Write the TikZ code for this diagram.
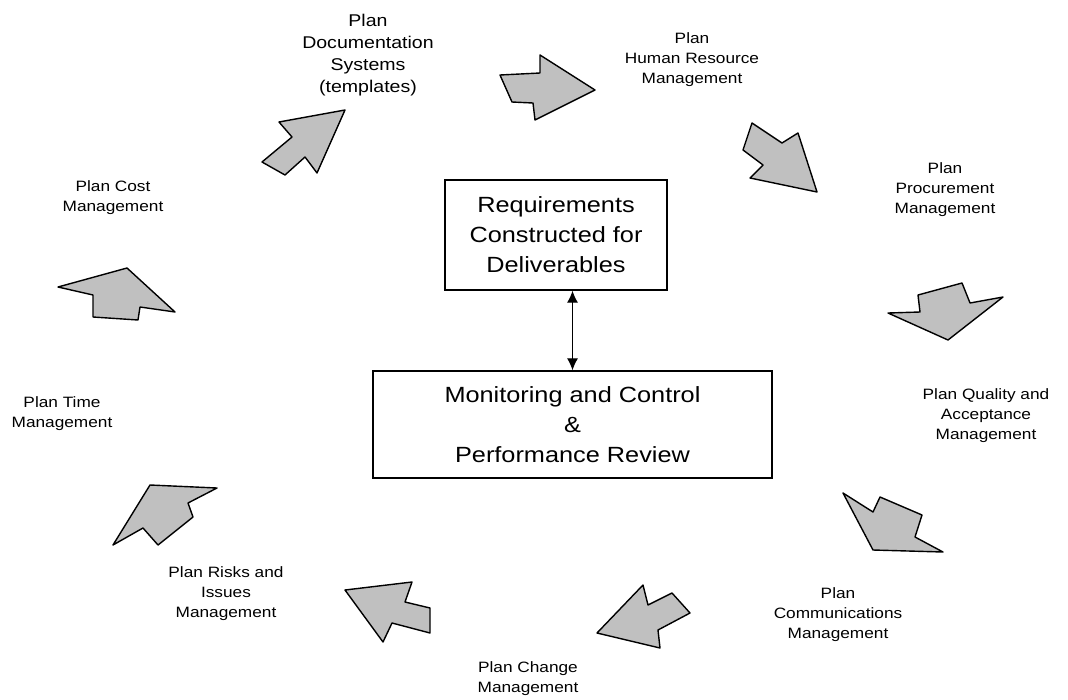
\documentclass[tikz,border=0pt]{standalone}
\usepackage{fontspec}
\usepackage{tikz}
\usetikzlibrary{arrows.meta}
\newfontfamily\planfont{Liberation Sans}[FakeStretch=1.15]
\definecolor{arrowgray}{RGB}{192,192,192}

\tikzset{
  planlabel/.style={align=center, inner sep=0pt, font=\planfont\fontsize{15}{20}\selectfont},
  mainbox/.style={draw, line width=1.3pt, align=center, font=\planfont\fontsize{22}{30}\selectfont},
  fatarrow/.style={draw, fill=arrowgray, line width=1.4pt, line join=round}
}

\begin{document}
\begin{tikzpicture}[x=1pt,y=-1pt]
\useasboundingbox (0,0) rectangle (1068,699);

% centre boxes
\node[mainbox, minimum width=222, minimum height=110] (req) at (556,235) {Requirements\\Constructed for\\Deliverables};
\node[mainbox, minimum width=399, minimum height=107] (mon) at (572.5,424.5) {Monitoring and Control\\\&\\Performance Review};
\draw[{Latex[length=12pt,width=11pt]}-{Latex[length=12pt,width=11pt]}, line width=1.2pt] (req.south -| mon.north) -- (mon.north);

% labels round the cycle
\node[planlabel, font=\planfont\fontsize{17}{22}\selectfont] (docs) at (368,55) {Plan\\Documentation\\Systems\\(templates)};
\node[planlabel] (hr) at (692,60) {Plan\\Human Resource\\Management};
\node[planlabel] (proc) at (945,190) {Plan\\Procurement\\Management};
\node[planlabel] (qual) at (986,416) {Plan Quality and\\Acceptance\\Management};
\node[planlabel] (comm) at (838,615) {Plan\\Communications\\Management};
\node[planlabel] (chg) at (528,679) {Plan Change\\Management};
\node[planlabel] (risk) at (226,594) {Plan Risks and\\Issues\\Management};
\node[planlabel] (time) at (62,414) {Plan Time\\Management};
\node[planlabel] (cost) at (113,198) {Plan Cost\\Management};

% block arrows
\draw[fatarrow] (345,110) -- (279,122) -- (292,137) -- (262,162) -- (285,175) -- (305,157) -- (317,173) -- cycle;
\draw[fatarrow] (500,75) -- (540,73) -- (540,55) -- (595,90) -- (535,120) -- (533,103) -- (512,102) -- cycle;
\draw[fatarrow] (752,123) -- (782,143) -- (798,133) -- (817,192) -- (750,178) -- (763,165) -- (743,150) -- cycle;
\draw[fatarrow] (888,313) -- (920,312) -- (918,295) -- (962,283) -- (970,303) -- (1003,297) -- (948,340) -- cycle;
\draw[fatarrow] (843,493) -- (873,512) -- (880,497) -- (922,515) -- (915,537) -- (943,552) -- (873,550) -- cycle;
\draw[fatarrow] (643,585) -- (648,605) -- (672,593) -- (690,613) -- (658,630) -- (660,648) -- (597,633) -- cycle;
\draw[fatarrow] (345,590) -- (412,582) -- (405,602) -- (430,608) -- (430,633) -- (392,623) -- (383,642) -- cycle;
\draw[fatarrow] (150,485) -- (217,488) -- (188,503) -- (193,517) -- (158,545) -- (143,528) -- (113,545) -- cycle;
\draw[fatarrow] (58,287) -- (127,268) -- (175,312) -- (140,307) -- (138,320) -- (93,317) -- (93,295) -- cycle;
\end{tikzpicture}
\end{document}
